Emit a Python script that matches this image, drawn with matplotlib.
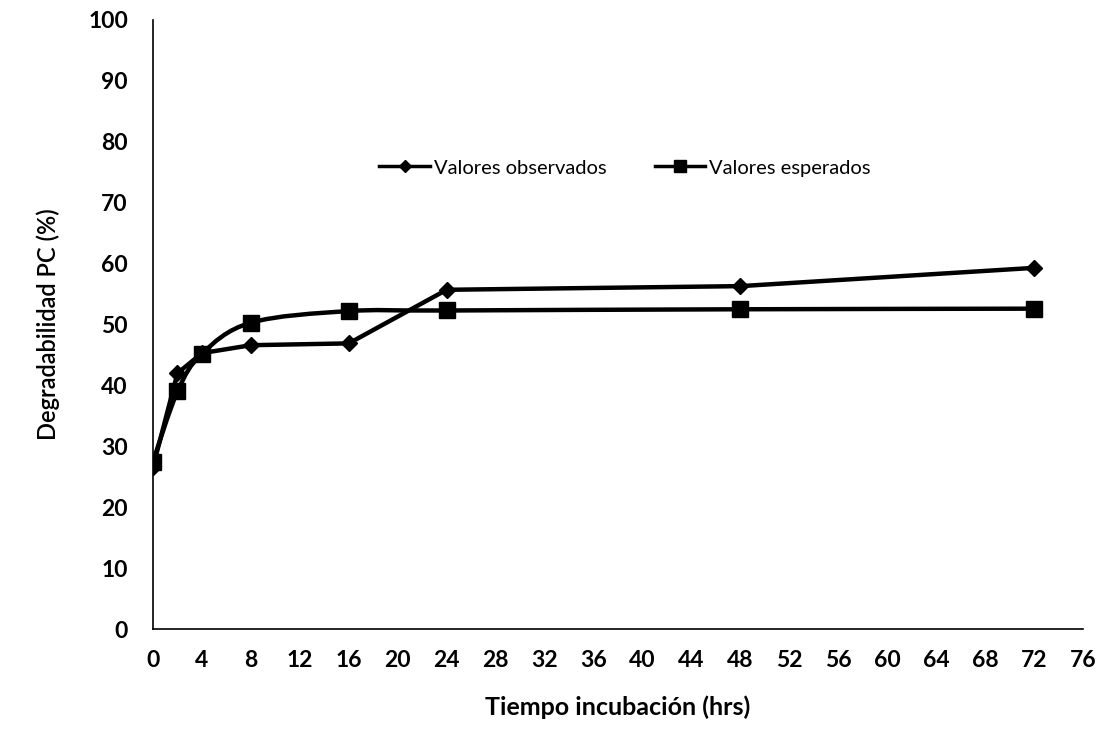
import matplotlib
matplotlib.use('Agg')
import matplotlib.pyplot as plt
import numpy as np
from matplotlib.path import Path
from matplotlib.patches import PathPatch

horas = [0, 2, 4, 8, 16, 24, 48, 72]
observados = [26.6, 42.0, 45.3, 46.6, 46.9, 55.7, 56.3, 59.3]
esperados = [27.5, 39.0, 45.2, 50.3, 52.2, 52.3, 52.5, 52.6]

xticks = list(range(0, 77, 4))
yticks = list(range(0, 101, 10))

plt.rcParams['font.family'] = ['Lato', 'DejaVu Sans']


def suave(x, y):
    # curva tipo "linea suavizada" de Excel (Catmull-Rom -> Bezier)
    p = np.column_stack([x, y]).astype(float)
    verts = [p[0]]
    codes = [Path.MOVETO]
    n = len(p)
    for i in range(n - 1):
        p0 = p[i - 1] if i > 0 else p[i]
        p3 = p[i + 2] if i + 2 < n else p[i + 1]
        c1 = p[i] + (p[i + 1] - p0) / 6.0
        c2 = p[i + 1] - (p3 - p[i]) / 6.0
        verts += [c1, c2, p[i + 1]]
        codes += [Path.CURVE4] * 3
    return Path(verts, codes)


fig = plt.figure(figsize=(11.05, 7.30), dpi=100)
ax = fig.add_axes([153 / 1105, 1 - 629 / 730, (1083 - 153) / 1105, (629 - 20) / 730])

# observados: tramos rectos; esperados: linea suavizada
ax.plot(horas, observados, '-', lw=3.2, color='black', solid_joinstyle='round', zorder=2)
ax.add_patch(PathPatch(suave(horas, esperados), fill=False, lw=3.2, color='black',
                       capstyle='round', joinstyle='round', zorder=2))

ax.plot(horas, observados, ls='none', marker='D', ms=8, color='black', zorder=3)
ax.plot(horas, esperados, ls='none', marker='s', ms=12, color='black', zorder=3)

h1, = ax.plot([], [], '-', color='black', lw=2.5, marker='D', ms=6)
h2, = ax.plot([], [], '-', color='black', lw=2.5, marker='s', ms=8)
fig.legend([h1, h2], ['Valores observados', 'Valores esperados'], loc='center',
           bbox_to_anchor=(625 / 1105, 1 - 168 / 730), ncol=2, frameon=False,
           fontsize=14.5, handlelength=2.5, handletextpad=0.2, columnspacing=2.4)

ax.set_xlim(0, 76)
ax.set_ylim(0, 100)
ax.set_xticks(xticks)
ax.set_yticks(yticks)
ax.tick_params(length=0, labelsize=16.5, pad=15)
ax.tick_params(axis='y', pad=18)
for t in ax.get_xticklabels() + ax.get_yticklabels():
    t.set_fontweight('bold')
ax.spines['top'].set_visible(False)
ax.spines['right'].set_visible(False)
ax.spines['left'].set_linewidth(1.2)
ax.spines['bottom'].set_linewidth(1.2)

ax.set_xlabel('Tiempo incubación (hrs)', fontsize=18, fontweight='bold', labelpad=18)
ax.set_ylabel('Degradabilidad PC (%)', fontsize=17, fontweight='semibold', labelpad=20)

fig.savefig('out.png', dpi=100)
